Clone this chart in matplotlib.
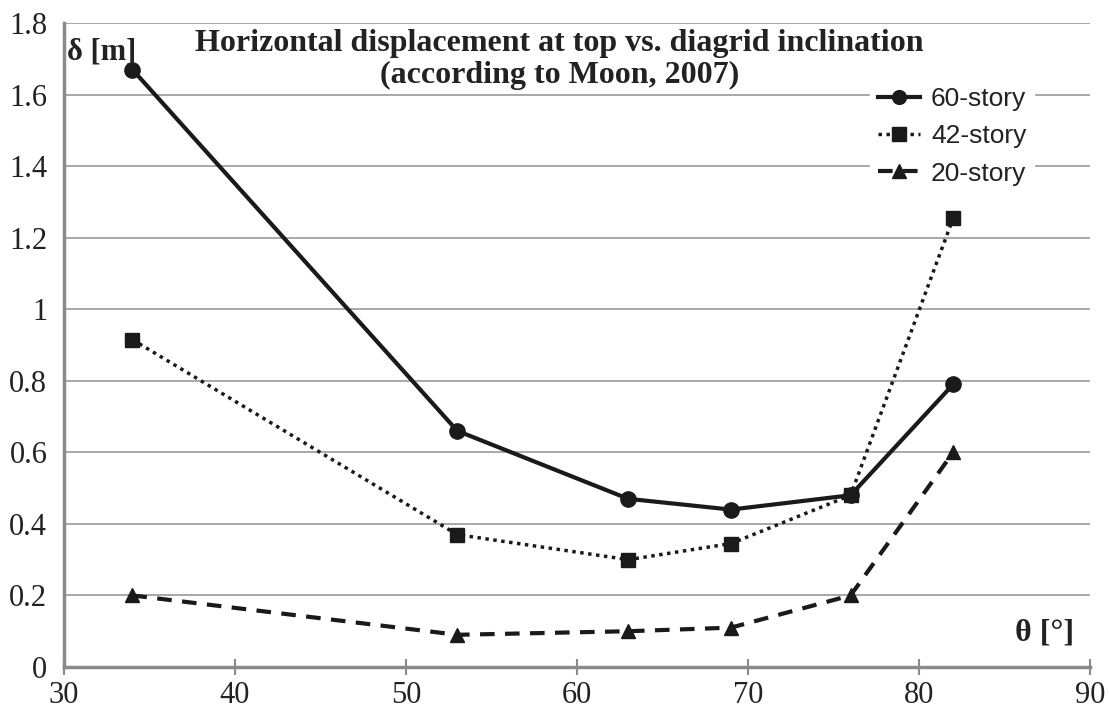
import matplotlib
matplotlib.use("Agg")
import matplotlib.pyplot as plt

theta = [34, 53, 63, 69, 76, 82]
story60 = [1.67, 0.66, 0.47, 0.44, 0.48, 0.79]
story42 = [0.915, 0.37, 0.30, 0.345, 0.48, 1.255]
story20 = [0.20, 0.09, 0.10, 0.11, 0.20, 0.60]
labels = ["60-story", "42-story", "20-story"]
yticks = [0, 0.2, 0.4, 0.6, 0.8, 1.0, 1.2, 1.4, 1.6, 1.8]
xticks = [30, 40, 50, 60, 70, 80, 90]

serif = ["Liberation Serif", "DejaVu Serif"]
sans = ["Liberation Sans", "DejaVu Sans"]

fig = plt.figure(figsize=(11.09, 7.14), dpi=100)
ax = fig.add_axes([64/1109, 47/714, (1090-64)/1109, (667-23)/714])

ax.plot(theta, story60, color="#1a1a1a", lw=3, ls="-", marker="o", ms=11, label=labels[0], zorder=3)
ax.plot(theta, story42, color="#1a1a1a", lw=2.5, ls=(0, (1, 1.3)), marker="s", ms=10.5, label=labels[1], zorder=3)
ax.plot(theta, story20, color="#1a1a1a", lw=3, ls=(0, (3.5, 2.5)), marker="^", ms=10.5, label=labels[2], zorder=3)

ax.set_xlim(30, 90)
ax.set_ylim(0, 1.8)
ax.set_xticks(xticks)
ax.set_yticks(yticks)
ax.set_yticklabels(["%g" % v for v in yticks])
ax.set_xticklabels([str(v) for v in xticks])
for lbl in ax.get_xticklabels() + ax.get_yticklabels():
    lbl.set_fontfamily(serif)
    lbl.set_fontsize(22)
    lbl.set_color("#222222")

ax.grid(axis="y", color="#9a9a9a", lw=1.2)
ax.set_axisbelow(True)
for s in ["top", "right"]:
    ax.spines[s].set_visible(False)
for s in ["left", "bottom"]:
    ax.spines[s].set_color("#8a8a8a")
    ax.spines[s].set_linewidth(2.5)
ax.tick_params(axis="x", direction="inout", length=12, width=1.5, color="#8a8a8a", pad=4)
ax.tick_params(axis="y", length=0, pad=12)

ax.text(0.483, 0.99, "Horizontal displacement at top vs. diagrid inclination\n(according to Moon, 2007)",
        transform=ax.transAxes, ha="center", va="top", fontsize=23, fontweight="bold",
        family=serif, color="#222222", linespacing=1.12)
ax.text(0.003, 0.978, "δ [m]", transform=ax.transAxes, ha="left", va="top", fontsize=22,
        fontweight="bold", family=serif, color="#222222")
ax.text(0.985, 0.03, "θ [°]", transform=ax.transAxes, ha="right", va="bottom", fontsize=23,
        fontweight="bold", family=serif, color="#222222")

leg = ax.legend(loc="upper left", bbox_to_anchor=(857/1109, (714-66)/714), bbox_transform=fig.transFigure,
                frameon=True, framealpha=1, edgecolor="white", facecolor="white",
                prop={"family": sans, "size": 19}, handlelength=1.6, labelspacing=0.5,
                handletextpad=0.4, borderpad=0.3, markerscale=0.9)
for t in leg.get_texts():
    t.set_color("#222222")

fig.savefig("out.png", dpi=100)
